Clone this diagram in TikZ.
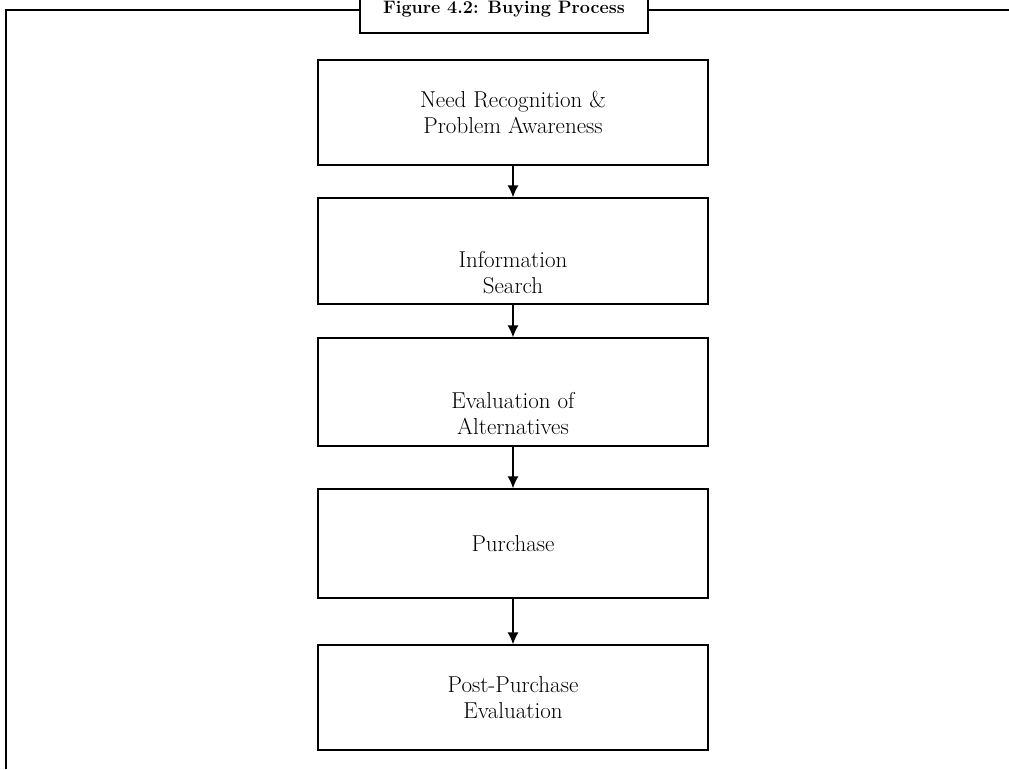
\documentclass[tikz,border=0pt]{standalone}
\usepackage{tikz}
\usetikzlibrary{arrows.meta}
\usetikzlibrary{positioning}
\tikzset{frame/.style = {line width=2pt}}
\tikzset{stage/.style = {draw, line width=1.3pt, minimum width=390pt,
                         align=center, font=\fontsize{23}{26}\selectfont}}
\tikzset{flow/.style = {line width=1.3pt, -{Latex[length=12pt, width=11pt]}}}

\begin{document}
\begin{tikzpicture}[x=1pt, y=-1pt]
    \useasboundingbox (0, 0) rectangle (1009, 769);

    \node [draw, frame, minimum width=288pt, minimum height=47pt,
           font=\fontsize{18}{20}\selectfont\bfseries] (title) at (504, 9)
          {Figure 4.2: Buying Process};

    \coordinate (corner) at (5.5, 10);
    \coordinate (foot) at (5.5, 769);
    \coordinate (edge) at (1009, 10);
    \draw [frame] (foot) -- (corner) -- (corner -| title.west);
    \draw [frame] (edge -| title.east) -- (edge);

    \node [stage, minimum height=105pt] (need) at (513, 112.5)
          {Need Recognition \&\\Problem Awareness};
    \node [stage, minimum height=106pt] (search) at (513, 251)
          {\rule{0pt}{60pt}Information\\Search};
    \node [stage, minimum height=108pt] (eval) at (513, 392)
          {\rule{0pt}{60pt}Evaluation of\\Alternatives};
    \node [stage, minimum height=109pt] (buy) at (513, 543.5) {Purchase};
    \node [stage, minimum height=105pt] (post) at (513, 697.5)
          {Post-Purchase\\Evaluation};

    \foreach \from/\to in {need/search, search/eval, eval/buy, buy/post}
      \draw [flow] (\from) -- (\to);
\end{tikzpicture}
\end{document}
